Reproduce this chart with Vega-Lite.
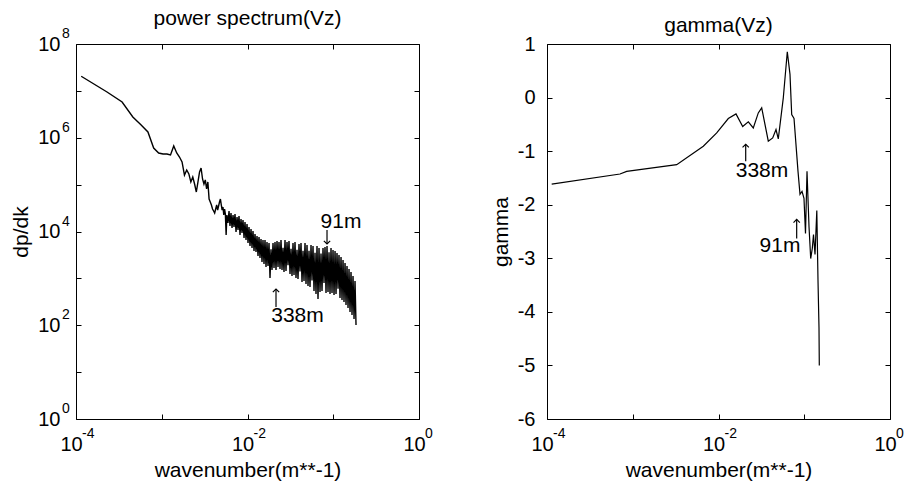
{
"$schema":"https://vega.github.io/schema/vega-lite/v6.json",
"padding":{"left":10,"top":7,"right":0,"bottom":2},
"background":"white",
"spacing":55,
"datasets":{
"spec":[
{"k":1.15e-4,"P":2.05e7},{"k":2.3e-4,"P":9.46e6},{"k":3.45e-4,"P":5.79e6},{"k":4.6e-4,"P":2.77e6},{"k":5.75e-4,"P":1.87e6},{"k":6.9e-4,"P":1.33e6},{"k":8.05e-4,"P":6.04e5},{"k":9.2e-4,"P":4.73e5},{"k":1.035e-3,"P":4.5e5},{"k":1.15e-3,"P":4.5e5},{"k":1.265e-3,"P":4.29e5},{"k":1.38e-3,"P":6.67e5},{"k":1.495e-3,"P":4.73e5},{"k":1.61e-3,"P":3.88e5},{"k":1.725e-3,"P":3.04e5},{"k":1.84e-3,"P":1.6e5},{"k":1.955e-3,"P":2.05e5},{"k":2.07e-3,"P":1.69e5},{"k":2.185e-3,"P":1.14e5},{"k":2.3e-3,"P":1.45e5},{"k":2.415e-3,"P":1.03e5},{"k":2.53e-3,"P":6.96e4},{"k":2.645e-3,"P":1.14e5},{"k":2.76e-3,"P":1.86e5},{"k":2.875e-3,"P":2.26e5},{"k":2.99e-3,"P":1.32e5},{"k":3.105e-3,"P":1.03e5},{"k":3.22e-3,"P":1.26e5},{"k":3.335e-3,"P":8.07e4},{"k":3.45e-3,"P":1.14e5},{"k":3.565e-3,"P":4.94e4},{"k":3.68e-3,"P":4.26e4},{"k":3.795e-3,"P":3.68e4},{"k":3.91e-3,"P":3.02e4},{"k":4.025e-3,"P":2.74e4},{"k":4.14e-3,"P":2.48e4},{"k":4.255e-3,"P":3.02e4},{"k":4.37e-3,"P":3.68e4},{"k":4.485e-3,"P":2.87e4},{"k":4.6e-3,"P":3.5e4},{"k":4.715e-3,"P":4.26e4},{"k":4.83e-3,"P":4.94e4},{"k":4.945e-3,"P":3.68e4},{"k":5.06e-3,"P":2.87e4},{"k":5.175e-3,"P":3.33e4},{"k":5.29e-3,"P":2.25e4},{"k":5.405e-3,"P":3.02e4},{"k":5.52e-3,"P":2.36e4},{"k":5.635e-3,"P":8.42e3},{"k":5.75e-3,"P":2.25e4},
{"k":5.92e-3,"P":1.518e4},{"k":6.09e-3,"P":2.737e4},{"k":6.25e-3,"P":1.31e4},{"k":6.42e-3,"P":2.481e4},{"k":6.6e-3,"P":1.187e4},{"k":6.78e-3,"P":2.249e4},{"k":6.96e-3,"P":1.247e4},{"k":7.15e-3,"P":2.362e4},{"k":7.35e-3,"P":9.76e3},{"k":7.55e-3,"P":2.038e4},{"k":7.75e-3,"P":1.076e4},{"k":7.96e-3,"P":2.141e4},{"k":8.18e-3,"P":8.42e3},{"k":8.4e-3,"P":1.848e4},{"k":8.63e-3,"P":9.29e3},{"k":8.86e-3,"P":1.759e4},{"k":9.11e-3,"P":7.27e3},{"k":9.35e-3,"P":1.595e4},{"k":9.61e-3,"P":6.59e3},{"k":9.87e-3,"P":1.445e4},
{"k":1.014e-2,"P":5680},{"k":1.041e-2,"P":12470},{"k":1.07e-2,"P":4900},{"k":1.099e-2,"P":11300},{"k":1.129e-2,"P":4450},{"k":1.159e-2,"P":10250},{"k":1.191e-2,"P":3840},{"k":1.223e-2,"P":8840},{"k":1.257e-2,"P":3650},{"k":1.291e-2,"P":8020},{"k":1.326e-2,"P":3000},{"k":1.362e-2,"P":7630},{"k":1.399e-2,"P":2720},{"k":1.437e-2,"P":6920},{"k":1.476e-2,"P":2240},{"k":1.516e-2,"P":6590},{"k":1.558e-2,"P":2030},{"k":1.6e-2,"P":6590},{"k":1.644e-2,"P":1750},{"k":1.688e-2,"P":5970},{"k":1.734e-2,"P":1840},{"k":1.782e-2,"P":5680},{"k":1.83e-2,"P":1020},{"k":1.88e-2,"P":4200},{"k":1.931e-2,"P":1510},{"k":1.984e-2,"P":5680},{"k":2.038e-2,"P":1665},{"k":2.093e-2,"P":5970},{"k":2.15e-2,"P":1510},{"k":2.209e-2,"P":6270},{"k":2.269e-2,"P":1750},{"k":2.33e-2,"P":5970},{"k":2.394e-2,"P":1585},{"k":2.459e-2,"P":6590},{"k":2.526e-2,"P":1510},{"k":2.595e-2,"P":4500},{"k":2.665e-2,"P":1370},{"k":2.738e-2,"P":6590},{"k":2.812e-2,"P":1440},{"k":2.889e-2,"P":5970},{"k":2.968e-2,"P":1900},{"k":3.048e-2,"P":6270},{"k":3.131e-2,"P":1240},{"k":3.217e-2,"P":4300},{"k":3.304e-2,"P":1124},{"k":3.394e-2,"P":5680},{"k":3.486e-2,"P":1180},{"k":3.581e-2,"P":5970},{"k":3.679e-2,"P":1020},{"k":3.779e-2,"P":4100},{"k":3.882e-2,"P":970},{"k":3.987e-2,"P":5410},{"k":4.096e-2,"P":1400},{"k":4.207e-2,"P":5680},{"k":4.322e-2,"P":837},{"k":4.44e-2,"P":3900},{"k":4.56e-2,"P":879},{"k":4.685e-2,"P":5680},{"k":4.812e-2,"P":759},{"k":4.943e-2,"P":5150},{"k":5.078e-2,"P":688},{"k":5.216e-2,"P":3900},{"k":5.358e-2,"P":655},{"k":5.504e-2,"P":5150},{"k":5.654e-2,"P":900},{"k":5.807e-2,"P":4900},{"k":5.965e-2,"P":538},{"k":6.128e-2,"P":3500},{"k":6.295e-2,"P":464},{"k":6.466e-2,"P":4900},{"k":6.642e-2,"P":363},{"k":6.823e-2,"P":4450},{"k":7.008e-2,"P":512},{"k":7.199e-2,"P":3400},{"k":7.395e-2,"P":538},{"k":7.596e-2,"P":4450},{"k":7.803e-2,"P":800},{"k":8.016e-2,"P":4670},{"k":8.234e-2,"P":488},{"k":8.458e-2,"P":4900},{"k":8.688e-2,"P":512},{"k":8.925e-2,"P":3600},{"k":9.168e-2,"P":464},{"k":9.417e-2,"P":4450},{"k":9.673e-2,"P":488},{"k":9.937e-2,"P":4030},
{"k":0.1021,"P":442},{"k":0.1049,"P":3840},{"k":0.1077,"P":464},{"k":0.1106,"P":3480},{"k":0.1137,"P":600},{"k":0.1167,"P":3150},{"k":0.1199,"P":381},{"k":0.1232,"P":2860},{"k":0.1265,"P":346},{"k":0.13,"P":2470},{"k":0.1335,"P":313},{"k":0.1372,"P":2130},{"k":0.1409,"P":270},{"k":0.1447,"P":1840},{"k":0.1487,"P":233},{"k":0.1527,"P":1585},{"k":0.1569,"P":192},{"k":0.1611,"P":1370},{"k":0.1655,"P":165},{"k":0.17,"P":1124},{"k":0.1747,"P":136},{"k":0.1794,"P":879},{"k":0.1843,"P":101}
],
"gam":[
{"k":1.134e-4,"g":-1.615},{"k":7.1e-4,"g":-1.427},{"k":8.5e-4,"g":-1.377},{"k":3.254e-3,"g":-1.252},{"k":6.65e-3,"g":-0.909},{"k":9.53e-3,"g":-0.66},{"k":1.301e-2,"g":-0.391},{"k":1.6e-2,"g":-0.305},{"k":1.915e-2,"g":-0.54},{"k":2.226e-2,"g":-0.454},{"k":2.545e-2,"g":-0.567},{"k":2.911e-2,"g":-0.286},{"k":3.19e-2,"g":-0.192},{"k":3.808e-2,"g":-0.815},{"k":4.286e-2,"g":-0.754},{"k":4.684e-2,"g":-0.597},{"k":4.981e-2,"g":-0.772},{"k":5.697e-2,"g":-0.005},{"k":6.343e-2,"g":0.856},{"k":6.82e-2,"g":0.433},{"k":7.14e-2,"g":-0.316},{"k":7.597e-2,"g":-0.391},{"k":8.457e-2,"g":-1.377},{"k":8.92e-2,"g":-1.807},{"k":9.42e-2,"g":-1.751},{"k":9.93e-2,"g":-1.882},{"k":0.1034,"g":-2.537},{"k":0.1077,"g":-1.377},{"k":0.1136,"g":-2.406},{"k":0.1189,"g":-3.005},{"k":0.1241,"g":-2.818},{"k":0.1282,"g":-2.556},{"k":0.1335,"g":-2.93},{"k":0.1401,"g":-2.107},{"k":0.1446,"g":-3.4},{"k":0.1486,"g":-4.3},{"k":0.1498,"g":-5.0}
],
"txt1":[
{"k":0.1231,"P":15950,"label":"91m"},{"k":0.03829,"P":161,"label":"338m"}
],
"arr1":[
{"k":0.08458,"a":10760,"b":5410,"dir":"down"},{"k":0.0215,"a":245,"b":593,"dir":"up"}
],
"txt2":[
{"k":0.03216,"g":-1.377,"label":"338m"},{"k":0.05215,"g":-2.762,"label":"91m"}
],
"arr2":[
{"k":0.02076,"a":-1.19,"b":-0.872,"dir":"up"},{"k":0.0816,"a":-2.631,"b":-2.275,"dir":"up"}
],
"xexp":[
{"k":0.0001,"e":"-4"},{"k":0.01,"e":"-2"},{"k":1,"e":"0"}
],
"yexp":[
{"P":1,"e":"0"},{"P":100,"e":"2"},{"P":10000,"e":"4"},{"P":1000000,"e":"6"},{"P":100000000,"e":"8"}
]
},
"hconcat":[
{
"width":343,"height":375,
"title":{"text":"power spectrum(Vz)"},
"layer":[
{"data":{"name":"spec"},"mark":{"type":"line","color":"black","strokeWidth":1.4,"clip":true},
"encoding":{
"x":{"field":"k","type":"quantitative","scale":{"type":"log","domain":[0.0001,1],"nice":false},"axis":{"orient":"bottom","values":[0.0001,0.001,0.01,0.1,1],"labelExpr":"(datum.value == 0.0001 || datum.value == 0.01 || datum.value == 1) ? '10' : ''","labelOffset":-5,"title":"wavenumber(m**-1)"}},
"y":{"field":"P","type":"quantitative","scale":{"type":"log","domain":[1,100000000],"nice":false},"axis":{"orient":"left","values":[1,10,100,1000,10000,100000,1000000,10000000,100000000],"labelExpr":"(datum.value == 1 || datum.value == 100 || datum.value == 10000 || datum.value == 1000000 || datum.value == 100000000) ? '10' : ''","labelPadding":21,"title":"dp/dk"}}
}},
{"data":{"name":"spec"},"mark":{"type":"point","opacity":0},
"encoding":{
"x":{"field":"k","type":"quantitative","scale":{"type":"log","domain":[0.0001,1],"nice":false},"axis":{"orient":"top","values":[0.0001,0.001,0.01,0.1,1],"labels":false,"title":null}},
"y":{"field":"P","type":"quantitative","scale":{"type":"log","domain":[1,100000000],"nice":false},"axis":{"orient":"right","values":[1,10,100,1000,10000,100000,1000000,10000000,100000000],"labels":false,"title":null}}
}},
{"data":{"name":"xexp"},"mark":{"type":"text","font":"Liberation Sans","fontSize":14,"color":"black","align":"left","baseline":"middle","dx":6,"dy":15},
"encoding":{
"x":{"field":"k","type":"quantitative","axis":null},
"y":{"datum":1,"type":"quantitative","axis":null},
"text":{"field":"e"}
}},
{"data":{"name":"yexp"},"mark":{"type":"text","font":"Liberation Sans","fontSize":14,"color":"black","align":"left","baseline":"middle","dx":-14,"dy":-10},
"encoding":{
"x":{"datum":0.0001,"type":"quantitative","axis":null},
"y":{"field":"P","type":"quantitative","axis":null},
"text":{"field":"e"}
}},
{"data":{"name":"txt1"},"mark":{"type":"text","font":"Liberation Sans","fontSize":21,"color":"black","align":"center","baseline":"middle"},
"encoding":{
"x":{"field":"k","type":"quantitative","axis":null},
"y":{"field":"P","type":"quantitative","axis":null},
"text":{"field":"label"}
}},
{"data":{"name":"arr1"},"mark":{"type":"rule","color":"black","strokeWidth":1.2},
"encoding":{
"x":{"field":"k","type":"quantitative","axis":null},
"y":{"field":"a","type":"quantitative","axis":null},
"y2":{"field":"b"}
}},
{"data":{"name":"arr1"},"mark":{"type":"point","filled":false,"color":"black","strokeWidth":1.2,"size":40,"opacity":1},
"encoding":{
"x":{"field":"k","type":"quantitative","axis":null},
"y":{"field":"b","type":"quantitative","axis":null},
"shape":{"field":"dir","type":"nominal","scale":{"domain":["down","up"],"range":["M-1,-1L0,0L1,-1","M-1,1L0,0L1,1"]},"legend":null}
}}
],
"resolve":{"axis":{"x":"independent","y":"independent"}}
},
{
"width":343,"height":375,
"title":{"text":"gamma(Vz)"},
"layer":[
{"data":{"name":"gam"},"mark":{"type":"line","color":"black","strokeWidth":1.2,"clip":true},
"encoding":{
"x":{"field":"k","type":"quantitative","scale":{"type":"log","domain":[0.0001,1],"nice":false},"axis":{"orient":"bottom","values":[0.0001,0.001,0.01,0.1,1],"labelExpr":"(datum.value == 0.0001 || datum.value == 0.01 || datum.value == 1) ? '10' : ''","labelOffset":-5,"title":"wavenumber(m**-1)"}},
"y":{"field":"g","type":"quantitative","scale":{"domain":[-6,1],"nice":false,"zero":false},"axis":{"orient":"left","values":[-6,-5,-4,-3,-2,-1,0,1],"labelExpr":"'' + datum.value","labelPadding":17,"title":"gamma"}}
}},
{"data":{"name":"gam"},"mark":{"type":"point","opacity":0},
"encoding":{
"x":{"field":"k","type":"quantitative","scale":{"type":"log","domain":[0.0001,1],"nice":false},"axis":{"orient":"top","values":[0.0001,0.001,0.01,0.1,1],"labels":false,"title":null}},
"y":{"field":"g","type":"quantitative","scale":{"domain":[-6,1],"nice":false,"zero":false},"axis":{"orient":"right","values":[-6,-5,-4,-3,-2,-1,0,1],"labels":false,"title":null}}
}},
{"data":{"name":"xexp"},"mark":{"type":"text","font":"Liberation Sans","fontSize":14,"color":"black","align":"left","baseline":"middle","dx":6,"dy":15},
"encoding":{
"x":{"field":"k","type":"quantitative","axis":null},
"y":{"datum":-6,"type":"quantitative","axis":null},
"text":{"field":"e"}
}},
{"data":{"name":"txt2"},"mark":{"type":"text","font":"Liberation Sans","fontSize":21,"color":"black","align":"center","baseline":"middle"},
"encoding":{
"x":{"field":"k","type":"quantitative","axis":null},
"y":{"field":"g","type":"quantitative","axis":null},
"text":{"field":"label"}
}},
{"data":{"name":"arr2"},"mark":{"type":"rule","color":"black","strokeWidth":1.2},
"encoding":{
"x":{"field":"k","type":"quantitative","axis":null},
"y":{"field":"a","type":"quantitative","axis":null},
"y2":{"field":"b"}
}},
{"data":{"name":"arr2"},"mark":{"type":"point","filled":false,"color":"black","strokeWidth":1.2,"size":40,"opacity":1},
"encoding":{
"x":{"field":"k","type":"quantitative","axis":null},
"y":{"field":"b","type":"quantitative","axis":null},
"shape":{"field":"dir","type":"nominal","scale":{"domain":["down","up"],"range":["M-1,-1L0,0L1,-1","M-1,1L0,0L1,1"]},"legend":null}
}}
],
"resolve":{"axis":{"x":"independent","y":"independent"}}
}
],
"config":{
"view":{"stroke":"black","strokeWidth":1},
"axis":{"grid":false,"domain":false,"ticks":true,"tickColor":"black","tickSize":-5,"labelFlush":false,"labelFont":"Liberation Sans","labelFontSize":20,"labelColor":"black","labelPadding":12,"titleFont":"Liberation Sans","titleFontSize":21,"titleFontWeight":"normal","titleColor":"black","titlePadding":6},
"axisX":{"labelPadding":20,"titlePadding":5},
"title":{"font":"Liberation Sans","fontSize":21,"fontWeight":"normal","color":"black","offset":-2}
}
}
